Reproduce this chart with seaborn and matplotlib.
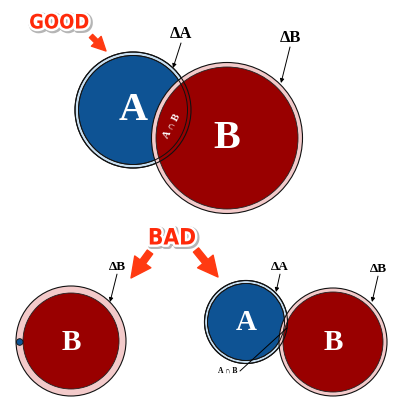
import matplotlib
matplotlib.use("Agg")
import matplotlib.pyplot as plt
import matplotlib.patheffects as pe
from matplotlib import font_manager
from matplotlib.font_manager import FontProperties
from matplotlib.patches import Circle
import seaborn as sns

sns.set_theme(style="white")
plt.rcParams['font.family'] = ['Liberation Serif', 'DejaVu Serif']

# ---- data: each set drawn as a circle with an uncertainty ring ----
set_names   = ["A", "B", "B", "A", "B"]
set_x       = [133, 227, 71, 246, 333]
set_y       = [110, 138, 341, 322, 342]
set_r       = [54.5, 71, 48, 38.5, 50]
set_delta   = [3.5, 4.5, 7, 3, 4]
label_pts   = [29, 29, 21, 21, 21]

delta_text  = ["ΔA", "ΔB", "ΔB", "ΔA", "ΔB"]
delta_pos   = [(181, 34), (290, 38), (117, 267), (280, 267), (378, 269)]
delta_tip   = [(173, 68), (281, 83), (110, 302), (276, 292), (372, 302)]
delta_pts   = [12, 12, 9.5, 9.5, 9.5]

verdicts    = ["GOOD", "BAD"]
verdict_pos = [(59, 23), (172, 238)]
verdict_width = [60, 48]
verdict_arrows = [((91, 36), (106, 51)), ((150, 252), (131, 278)), ((196, 250), (218, 277))]
verdict_arrow_scale = [11, 16, 16]

tiny_a = (19.7, 342, 3.3)

ring_colors = {"A": "#c8dff1", "B": "#f3caca"}
fill_colors = {"A": "#0e5394", "B": "#990000"}

fig = plt.figure(figsize=(4, 4), dpi=100)
ax = fig.add_axes([0, 0, 1, 1])
ax.set_xlim(0, 400)
ax.set_ylim(400, 0)
ax.set_aspect("equal")
ax.axis("off")


def draw_set(i, z):
    n = set_names[i]
    x, y, r, d = set_x[i], set_y[i], set_r[i], set_delta[i]
    ax.add_patch(Circle((x, y), r + d, facecolor=ring_colors[n], edgecolor="#111111", lw=0.8, zorder=z))
    ax.add_patch(Circle((x, y), r, facecolor=fill_colors[n], edgecolor="#222222", lw=0.6, zorder=z + 0.1))


def outline_set(i, z):
    x, y, r, d = set_x[i], set_y[i], set_r[i], set_delta[i]
    ax.add_patch(Circle((x, y), r + d, facecolor="none", edgecolor="#111111", lw=0.8, zorder=z))
    ax.add_patch(Circle((x, y), r, facecolor="none", edgecolor="#111111", lw=0.7, zorder=z))


draw_set(0, 1)
draw_set(1, 2)
outline_set(0, 3)
draw_set(2, 1)
draw_set(3, 1)
draw_set(4, 2)
outline_set(3, 3)

ax.add_patch(Circle(tiny_a[:2], tiny_a[2], facecolor=fill_colors["A"], edgecolor="#111111", lw=0.6, zorder=5))

for i, n in enumerate(set_names):
    ax.text(set_x[i], set_y[i] + 1, n, color="white", fontsize=label_pts[i], fontweight="bold",
            ha="center", va="center", zorder=6)

ax.text(171.5, 126.5, "A ∩ B", color="white", fontsize=7.5, fontweight="bold", rotation=62,
        ha="center", va="center", zorder=6)
ax.text(228, 371, "A ∩ B", color="black", fontsize=5.5, fontweight="bold",
        ha="center", va="center", zorder=6)
ax.plot([240, 287], [371, 328], color="black", lw=0.7, zorder=6)

for t, p, tip, fs in zip(delta_text, delta_pos, delta_tip, delta_pts):
    ax.text(p[0], p[1], t, fontsize=fs, fontweight="bold", color="black", ha="center", va="center", zorder=7)
    ax.annotate("", xy=tip, xytext=(p[0], p[1] + fs * 0.75),
                arrowprops=dict(arrowstyle="-|>", color="black", lw=0.7, mutation_scale=6,
                                shrinkA=0, shrinkB=0), zorder=7)

# pick the narrowest heavy sans available for GOOD / BAD
cands = []
for f in font_manager.fontManager.ttflist:
    nm = f.name + " " + str(f.fname)
    w = f.weight if isinstance(f.weight, int) else 400
    if any(k in nm for k in ("Condensed", "Narrow", "Compressed")) and w >= 600:
        cands.append(f.fname)
if cands:
    vprop = FontProperties(fname=sorted(cands)[0])
else:
    vprop = FontProperties(family=["Roboto", "DejaVu Sans"], weight="black")

effects = [pe.Stroke(linewidth=4.5, foreground="#b5b5b5", offset=(1, -1)),
           pe.Stroke(linewidth=3.5, foreground="white"), pe.Normal()]
renderer = fig.canvas.get_renderer()
for t, p, wt in zip(verdicts, verdict_pos, verdict_width):
    fp = vprop.copy()
    fp.set_size(20)
    txt = ax.text(p[0], p[1], t, fontproperties=fp, color="#ff2a0a",
                  ha="center", va="center", path_effects=effects, zorder=8)
    wpx = txt.get_window_extent(renderer=renderer).width
    fp.set_size(20 * wt / wpx)
    txt.set_fontproperties(fp)

for (tail, tip), ms in zip(verdict_arrows, verdict_arrow_scale):
    ax.annotate("", xy=tip, xytext=tail,
                arrowprops=dict(arrowstyle="simple,head_length=0.9,head_width=0.9,tail_width=0.3",
                                color="#ff3a12", mutation_scale=ms, shrinkA=0, shrinkB=0,
                                path_effects=[pe.Stroke(linewidth=2, foreground="white"), pe.Normal()]),
                zorder=8)

fig.savefig("out.png", dpi=100)
